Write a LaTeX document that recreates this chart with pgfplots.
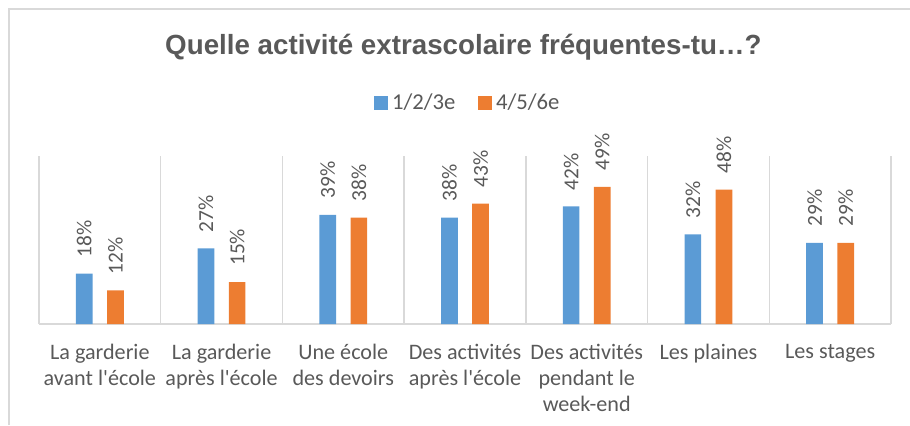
\documentclass[border=0pt]{standalone}
\usepackage{pgfplots}
\pgfplotsset{compat=1.18}
\usepackage{fontspec}
\setmainfont{Carlito}
\newfontfamily\arialfont{Liberation Sans}
\definecolor{cblue}{HTML}{5B9BD5}
\definecolor{corange}{HTML}{ED7D31}
\definecolor{txt}{HTML}{595959}
\definecolor{gridc}{HTML}{D9D9D9}
\begin{document}
\begin{tikzpicture}
\path[use as bounding box] (0pt,0pt) rectangle (682.5pt,318.75pt);
\draw[gridc, line width=1.5pt] (6.75pt,0pt) -- (6.75pt,312pt) -- (682.5pt,312pt);
\node[font=\arialfont\bfseries\fontsize{20.8}{24}\selectfont, text=txt, anchor=base] at (347.6pt,277.5pt) {Quelle activité extrascolaire fréquentes-tu…?};
\begin{axis}[
  at={(29.25pt,75.75pt)}, anchor=south west,
  scale only axis, width=639pt, height=126pt,
  clip=false,
  /pgf/number format/assume math mode=true,
  ymin=0, ymax=60, xmin=-0.5, xmax=6.5,
  axis x line=bottom, axis y line=none,
  axis line style={-, gridc, line width=1.5pt},
  xtick={0,...,6},
  xticklabels={{La garderie\\avant l\textquotesingle école},{La garderie\\après l\textquotesingle école},{Une école\\des devoirs},{Des activités\\après l\textquotesingle école},{Des activités\\pendant le\\week-end},{Les plaines},{Les stages}},
  xticklabel style={align=center, anchor=north, inner sep=0pt, yshift=-15pt, text=txt, font=\fontsize{16.6}{19.5}\selectfont},
  major tick length=0pt,
  minor xtick={-0.5,0.5,...,6.5},
  minor tick length=0pt,
  xminorgrids=true,
  minor grid style={gridc, line width=1.1pt},
  ytick=\empty,
  ybar, bar width=0.137,
  nodes near coords={\pgfmathprintnumber{\pgfplotspointmeta}\%},
  every node near coord/.append style={rotate=90, anchor=west, inner xsep=12pt, inner ysep=0pt, text=txt, font=\fontsize{16}{18}\selectfont},
  legend columns=2,
  legend style={draw=none, fill=none, at={(0.393,1.315)}, anchor=west, inner sep=0pt, font=\fontsize{17}{20}\selectfont, text=txt,
    nodes={inner xsep=3pt}, /tikz/every even column/.append style={column sep=14pt}},
  legend image code/.code={\fill[#1] (0pt,-5.25pt) rectangle (10.5pt,5.25pt);},
]
\addplot[fill=cblue, draw=none, bar shift=-0.128] coordinates {(0,18) (1,27) (2,39) (3,38) (4,42) (5,32) (6,29)};
\addplot[fill=corange, draw=none, bar shift=0.128] coordinates {(0,12) (1,15) (2,38) (3,43) (4,49) (5,48) (6,29)};
\legend{1/2/3e,4/5/6e}
\end{axis}
\end{tikzpicture}
\end{document}
